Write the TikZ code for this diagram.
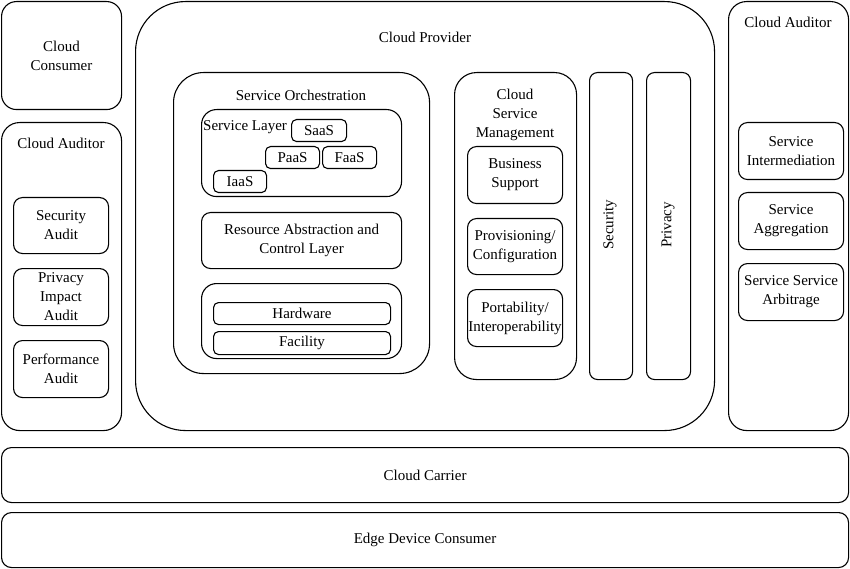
\documentclass[tikz,border=0pt]{standalone}
\usepackage{fontspec}
\setmainfont{Liberation Serif}
\tikzset{
  box/.style={
    rectangle,
    draw=black,
    line width=1.1pt,
    rounded corners=9pt,
    anchor=north west,
    inner sep=0pt,
    align=center,
    font=\fontsize{15}{19}\selectfont
  },
  lbl/.style={inner sep=0pt, align=center, font=\fontsize{15}{19}\selectfont}
}

\begin{document}
\begin{tikzpicture}[x=1pt, y=-1pt]
    \useasboundingbox (0,0) rectangle (850,569);
    % left column
    \node[box, rounded corners=15pt, minimum width=120, minimum height=108] (consumer) at (1,1) {Cloud\\Consumer};
    \node[box, rounded corners=18pt, minimum width=120, minimum height=308] (auditl) at (1,122) {};
    \node[lbl] (auditlt) at (61,143) {Cloud Auditor};
    \node[box, minimum width=95, minimum height=56] (secaudit) at (13,197) {Security\\Audit};
    \node[box, minimum width=95, minimum height=57] (privaudit) at (13,268) {Privacy\\Impact\\Audit};
    \node[box, minimum width=95, minimum height=57] (perfaudit) at (13,340) {Performance\\Audit};
    % provider
    \node[box, rounded corners=50pt, minimum width=579, minimum height=429] (provider) at (135,1) {};
    \node[lbl] (providert) at (425,37) {Cloud Provider};
    \node[box, rounded corners=30pt, minimum width=256, minimum height=301] (orch) at (173,72) {};
    \node[lbl] (orcht) at (301,95) {Service Orchestration};
    \node[box, rounded corners=15pt, minimum width=200, minimum height=87] (slayer) at (201,109) {};
    \node[lbl, anchor=west] (slayert) at (203,127) {Service Layer};
    \node[box, rounded corners=5pt, minimum width=55, minimum height=22] (saas) at (291,119) {SaaS};
    \node[box, rounded corners=5pt, minimum width=54, minimum height=22] (paas) at (265,146) {PaaS};
    \node[box, rounded corners=5pt, minimum width=54, minimum height=22] (faas) at (322,146) {FaaS};
    \node[box, rounded corners=5pt, minimum width=53, minimum height=22] (iaas) at (213,170) {IaaS};
    \node[box, minimum width=200, minimum height=56] (resource) at (201,212) {Resource Abstraction and\\Control Layer};
    \node[box, rounded corners=15pt, minimum width=200, minimum height=75] (physical) at (201,283) {};
    \node[box, rounded corners=5pt, minimum width=177, minimum height=22] (hardware) at (213,302) {Hardware};
    \node[box, rounded corners=5pt, minimum width=177, minimum height=23] (facility) at (213,331) {Facility};
    % management
    \node[box, rounded corners=22pt, minimum width=122, minimum height=307] (mgmt) at (454,72) {};
    \node[lbl] (mgmtt) at (515,115) {Cloud\\Service\\Management};
    \node[box, minimum width=95, minimum height=57] (business) at (467,146) {Business\\Support};
    \node[box, minimum width=95, minimum height=56] (provisioning) at (467,218) {Provisioning/\\Configuration};
    \node[box, minimum width=95, minimum height=57] (portability) at (467,289) {Portability/\\Interoperability};
    \node[box, rounded corners=8pt, minimum width=43, minimum height=307] (security) at (589,72) {};
    \node[lbl, rotate=90] (securityt) at (610,225) {Security};
    \node[box, rounded corners=8pt, minimum width=44, minimum height=307] (privacy) at (646,72) {};
    \node[lbl, rotate=90] (privacyt) at (668,225) {Privacy};
    % right column
    \node[box, rounded corners=18pt, minimum width=120, minimum height=429] (auditr) at (728,1) {};
    \node[lbl] (auditrt) at (788,22) {Cloud Auditor};
    \node[box, minimum width=105, minimum height=57] (intermed) at (738,122) {Service\\Intermediation};
    \node[box, minimum width=105, minimum height=57] (aggreg) at (738,192) {Service\\Aggregation};
    \node[box, minimum width=105, minimum height=57] (arbit) at (738,263) {Service Service\\Arbitrage};
    % bottom bars
    \node[box, rounded corners=10pt, minimum width=847, minimum height=55] (carrier) at (1,447) {Cloud Carrier};
    \node[box, rounded corners=10pt, minimum width=847, minimum height=55] (edge) at (1,512) {Edge Device Consumer};
\end{tikzpicture}
\end{document}
